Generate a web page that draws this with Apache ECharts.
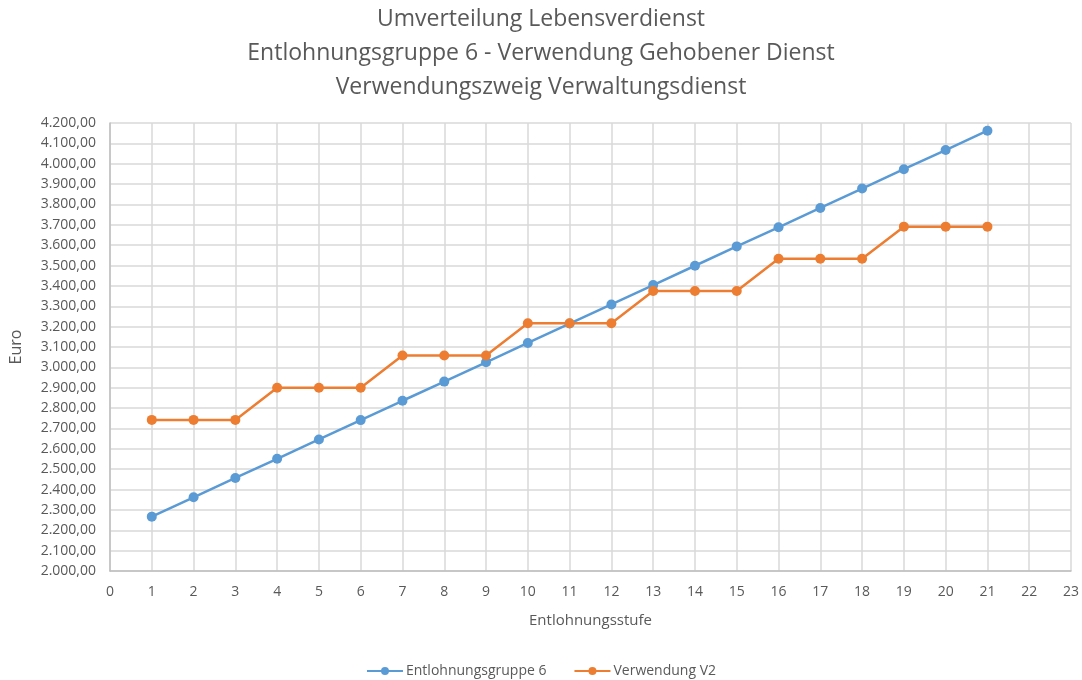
<!DOCTYPE html>
<html lang="de">
<head>
    <meta charset="UTF-8">
    <title>Umverteilung Lebensverdienst</title>
    <script src="https://cdn.jsdelivr.net/npm/echarts@6/dist/echarts.min.js"></script>
    <style>
        html, body { margin: 0; padding: 0; background: #ffffff; }
        #lineChart { width: 1082px; height: 680px; }
    </style>
</head>
<body>
<div id="lineChart"></div>
<script>
    // Entlohnungsstufen 1..21
    var stufen = [1, 2, 3, 4, 5, 6, 7, 8, 9, 10, 11, 12, 13, 14, 15, 16, 17, 18, 19, 20, 21];
    var gruppe6 = [2267, 2362, 2457, 2551, 2646, 2741, 2836, 2930, 3025, 3120, 3215,
                   3309, 3404, 3499, 3594, 3688, 3783, 3878, 3973, 4067, 4162];
    var verwendungV2 = [2742, 2742, 2742, 2900, 2900, 2900, 3058, 3058, 3058, 3217, 3217,
                        3217, 3375, 3375, 3375, 3533, 3533, 3533, 3691, 3691, 3691];
    var seriesNames = ['Entlohnungsgruppe 6', 'Verwendung V2'];

    function pairs(ys) {
        var out = [];
        for (var i = 0; i < stufen.length; i++) out.push([stufen[i], ys[i]]);
        return out;
    }
    function euro(v) {
        var s = Math.round(v).toString();
        s = s.replace(/\B(?=(\d{3})+(?!\d))/g, '.');
        return s + ',00';
    }

    var txt = '#595959';
    var font = '"Open Sans", "Liberation Sans", sans-serif';
    var myChart = echarts.init(document.getElementById('lineChart'));
    var option = {
        animation: false,
        textStyle: { fontFamily: font },
        title: {
            text: 'Umverteilung Lebensverdienst\nEntlohnungsgruppe 6 - Verwendung Gehobener Dienst\nVerwendungszweig Verwaltungsdienst',
            left: 'center',
            top: 2,
            padding: 0,
            textStyle: { fontSize: 23, fontWeight: 'normal', color: txt, lineHeight: 34, fontFamily: font }
        },
        legend: {
            top: 659,
            left: 'center',
            itemWidth: 36,
            itemHeight: 10,
            itemGap: 27,
            textStyle: { fontSize: 14, color: txt, fontFamily: font, padding: [0, 0, 0, -2] },
            data: seriesNames
        },
        grid: { left: 109, right: 9, top: 123, bottom: 109, containLabel: false },
        xAxis: {
            type: 'value',
            min: 0,
            max: 23,
            interval: 1,
            name: 'Entlohnungsstufe',
            nameLocation: 'middle',
            nameGap: 42,
            nameTextStyle: { fontSize: 15, color: txt },
            axisLine: { lineStyle: { color: '#bfbfbf', width: 1.5 } },
            axisTick: { show: false },
            axisLabel: { fontSize: 14, color: txt, margin: 14 },
            splitLine: { show: true, lineStyle: { color: '#d9d9d9', width: 1.5 } }
        },
        yAxis: {
            type: 'value',
            min: 2000,
            max: 4200,
            interval: 100,
            name: 'Euro',
            nameLocation: 'middle',
            nameGap: 86,
            nameTextStyle: { fontSize: 16, color: txt },
            axisLine: { show: true, lineStyle: { color: '#bfbfbf', width: 1.5 } },
            axisTick: { show: false },
            axisLabel: { fontSize: 14, color: txt, margin: 14, formatter: euro },
            splitLine: { show: true, lineStyle: { color: '#d9d9d9', width: 1.5 } }
        },
        series: [
            {
                name: seriesNames[0],
                type: 'line',
                data: pairs(gruppe6),
                symbol: 'circle',
                symbolSize: 10,
                color: '#5b9bd5',
                lineStyle: { width: 2.5, color: '#5b9bd5' },
                itemStyle: { color: '#5b9bd5' }
            },
            {
                name: seriesNames[1],
                type: 'line',
                data: pairs(verwendungV2),
                symbol: 'circle',
                symbolSize: 10,
                color: '#ed7d31',
                lineStyle: { width: 2.5, color: '#ed7d31' },
                itemStyle: { color: '#ed7d31' }
            }
        ]
    };
    myChart.setOption(option);
</script>
</body>
</html>
